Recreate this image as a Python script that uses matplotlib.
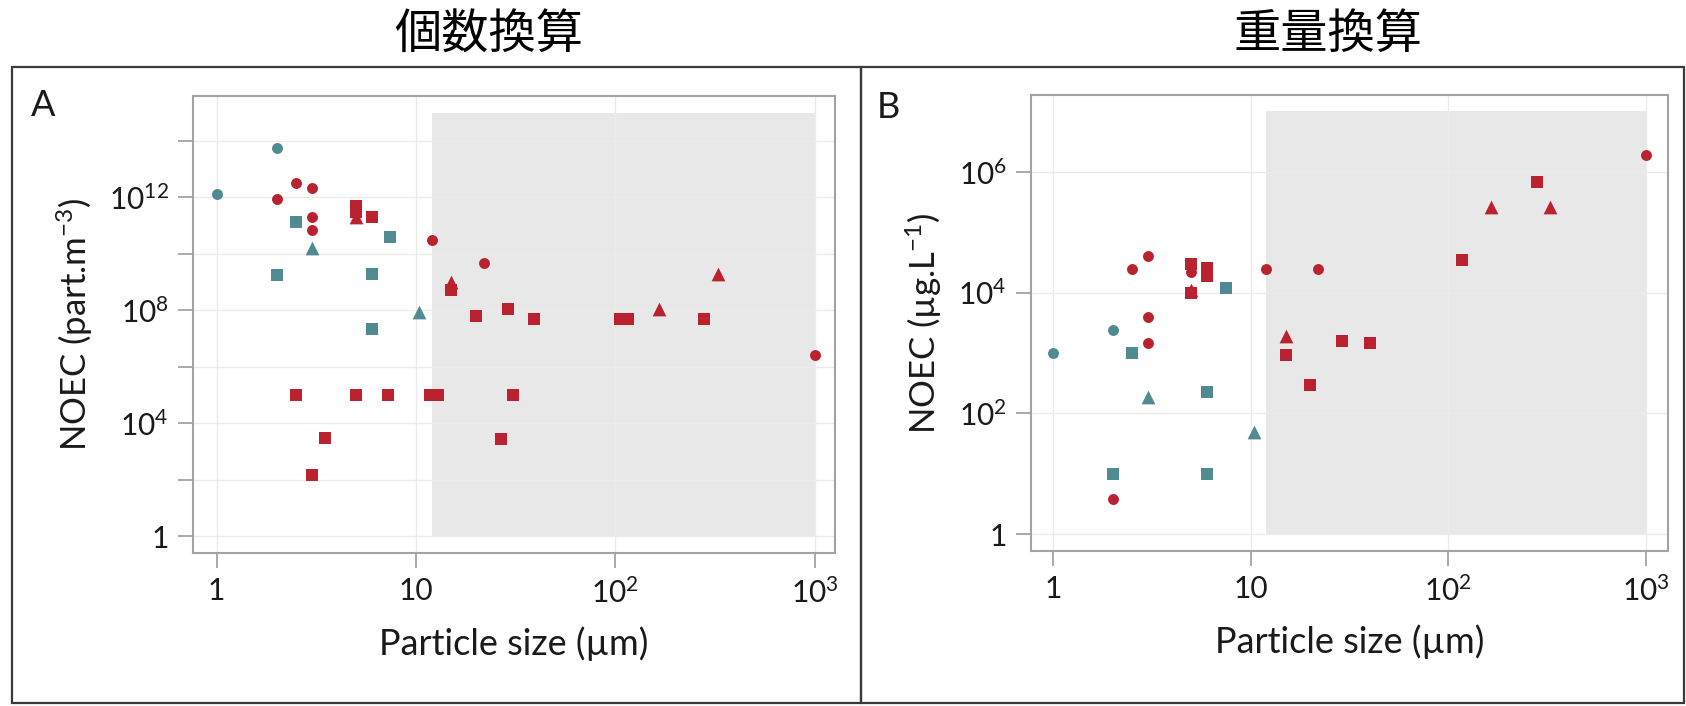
import matplotlib.pyplot as plt
from matplotlib.patches import Rectangle
import numpy as np

plt.rcParams['font.family'] = ['Lato', 'DejaVu Sans']
plt.rcParams['mathtext.fontset'] = 'custom'
plt.rcParams['mathtext.rm'] = 'Lato'
plt.rcParams['mathtext.default'] = 'rm'

red = '#BA2230'
teal = '#4F8B90'
shade = '#E9E8E9'
spine_c = '#A3A3A3'

# panel A: count based NOEC (part.m-3)
a_teal_circle_x = [1, 2]
a_teal_circle_y = [1.3e12, 5.5e13]
a_teal_square_x = [2.5, 2, 6, 7.4, 6]
a_teal_square_y = [1.3e11, 1.8e9, 1.9e9, 3.8e10, 2.1e7]
a_teal_tri_x = [3, 10.3]
a_teal_tri_y = [1.6e10, 8.5e7]
a_red_circle_x = [2, 2.5, 3, 3, 3, 12, 22, 1000]
a_red_circle_y = [8.7e11, 3.3e12, 2.1e12, 2e11, 7e10, 3.1e10, 4.6e9, 2.6e6]
a_red_square_x = [5, 5, 6, 15, 20, 29, 39, 105, 116, 280,
                  2.5, 5, 7.2, 11.7, 12.9, 30.8, 3.5, 26.8, 3]
a_red_square_y = [4.9e11, 3e11, 2e11, 5.2e8, 6.3e7, 1.1e8, 4.8e7, 5e7, 5e7, 5e7,
                  1e5, 1e5, 1e5, 1e5, 1e5, 1e5, 3.1e3, 2.7e3, 1.4e2]
a_red_tri_x = [5, 15, 165, 327]
a_red_tri_y = [2e11, 1e9, 1.1e8, 2e9]

# panel B: mass based NOEC (ug.L-1)
b_teal_circle_x = [1, 2]
b_teal_circle_y = [1e3, 2.4e3]
b_teal_square_x = [2.5, 6, 2, 6, 7.5]
b_teal_square_y = [1e3, 2.3e2, 10, 10, 1.2e4]
b_teal_tri_x = [3, 10.4]
b_teal_tri_y = [1.9e2, 50]
b_red_circle_x = [2.5, 3, 3, 3, 2, 5, 12, 22, 1000]
b_red_circle_y = [2.5e4, 4.1e4, 3.9e3, 1.45e3, 3.8, 2.2e4, 2.5e4, 2.5e4, 1.9e6]
b_red_square_x = [5, 5, 6, 6, 15, 20, 29, 40, 117, 280]
b_red_square_y = [3e4, 1e4, 2.6e4, 1.9e4, 9.2e2, 2.9e2, 1.6e3, 1.45e3, 3.4e4, 6.8e5]
b_red_tri_x = [5, 15, 165, 328]
b_red_tri_y = [1.1e4, 1.9e3, 2.6e5, 2.6e5]

shade_x = [12, 1000]

W, H = 1686, 706
fig = plt.figure(figsize=(W / 100, H / 100), dpi=100)

def px_axes(l, t, r, b):
    return fig.add_axes([l / W, 1 - b / H, (r - l) / W, (b - t) / H])

axA = px_axes(193, 96, 835, 553)
axB = px_axes(1031, 95, 1668, 551)

def draw(ax, series, shade_top):
    ax.set_xscale('log')
    ax.set_yscale('log')
    ax.fill_between(shade_x, 1, shade_top, color=shade, lw=0, zorder=0.2)
    for x, y, c, m, s in series:
        ax.scatter(x, y, color=c, marker=m, s=s, lw=0, zorder=3)
    ax.grid(True, color='#EBEBEB', lw=1.0)
    ax.set_axisbelow(True)
    for sp in ax.spines.values():
        sp.set_color(spine_c)
        sp.set_linewidth(1.5)
    ax.tick_params(which='major', length=10.5, width=1.3, color=spine_c,
                   labelsize=21.5, labelcolor='#1A1A1A', pad=7)
    ax.minorticks_off()
    ax.set_xticks([1, 10, 100, 1000], ['1', '10', '10$^2$', '10$^3$'])
    ax.set_xlabel('Particle size (µm)', fontsize=26, color='#1A1A1A', labelpad=13)

sq = 78
ci = 62
tr = 98
draw(axA, [
    (a_red_square_x, a_red_square_y, red, 's', sq),
    (a_red_circle_x, a_red_circle_y, red, 'o', ci),
    (a_red_tri_x, a_red_tri_y, red, '^', tr),
    (a_teal_square_x, a_teal_square_y, teal, 's', sq),
    (a_teal_circle_x, a_teal_circle_y, teal, 'o', ci),
    (a_teal_tri_x, a_teal_tri_y, teal, '^', tr),
], 1e15)
axA.set_xlim(10 ** -0.119, 10 ** 3.102)
axA.set_ylim(10 ** -0.6, 10 ** 15.59)
a_yt = [10.0 ** k for k in range(0, 15, 2)]
a_yl = ['1', '', '10$^4$', '', '10$^8$', '', '10$^{12}$', '']
axA.set_yticks(a_yt, a_yl)
axA.set_ylabel('NOEC (part.m$^{-3}$)', fontsize=25, color='#1A1A1A', labelpad=10)

draw(axB, [
    (b_red_square_x, b_red_square_y, red, 's', sq),
    (b_red_circle_x, b_red_circle_y, red, 'o', ci),
    (b_red_tri_x, b_red_tri_y, red, '^', tr),
    (b_teal_square_x, b_teal_square_y, teal, 's', sq),
    (b_teal_circle_x, b_teal_circle_y, teal, 'o', ci),
    (b_teal_tri_x, b_teal_tri_y, teal, '^', tr),
], 1e7)
axB.set_xlim(10 ** -0.113, 10 ** 3.112)
axB.set_ylim(10 ** -0.277, 10 ** 7.27)
axB.set_yticks([1, 1e2, 1e4, 1e6], ['1', '10$^2$', '10$^4$', '10$^6$'])
axB.set_ylabel('NOEC (µg.L$^{-1}$)', fontsize=25, color='#1A1A1A', labelpad=10)

# panel frames
for l, r in [(12, 861), (861, 1684)]:
    fig.add_artist(Rectangle((l / W, 1 - 703 / H), (r - l) / W, (703 - 67) / H,
                             transform=fig.transFigure, fill=False,
                             ec='#3A3A3A', lw=1.6))

fig.text(43 / W, 1 - 105 / H, 'A', fontsize=26, ha='center', va='center', color='#1A1A1A')
fig.text(888 / W, 1 - 107 / H, 'B', fontsize=26, ha='center', va='center', color='#1A1A1A')

cjk = ['Noto Sans CJK JP', 'DejaVu Sans']
fig.text(489 / W, 1 - 35 / H, '個数換算', fontsize=34, ha='center', va='center', family=cjk)
fig.text(1328 / W, 1 - 35 / H, '重量換算', fontsize=34, ha='center', va='center', family=cjk)

fig.savefig('out.png', dpi=100)
